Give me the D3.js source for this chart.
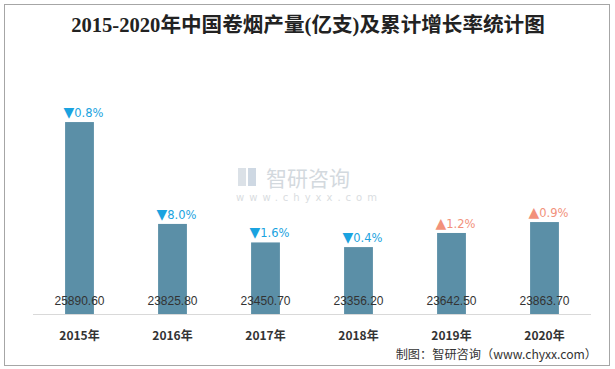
<!DOCTYPE html>
<html><head><meta charset="utf-8">
<script src="https://cdn.jsdelivr.net/npm/d3@7/dist/d3.min.js"></script>
<style>body{margin:0;background:#fff}svg{display:block}</style>
</head><body>
<svg id="c" width="615" height="369"></svg>
<script>
const categories = ["2015年","2016年","2017年","2018年","2019年","2020年"];
const production = [25890.60, 23825.80, 23450.70, 23356.20, 23642.50, 23863.70];
const growth = [-0.8, -8.0, -1.6, -0.4, 1.2, 0.9];
const yDomain = [22000, 26500];

const svg = d3.select("#c");
svg.append("rect").attr("x",4.5).attr("y",4.5).attr("width",605).attr("height",361)
  .attr("fill","#fff").attr("stroke","#a6a6a6").attr("stroke-width",1);

svg.append("text").attr("x",308).attr("y",32).attr("text-anchor","middle")
  .attr("font-family","'Liberation Serif','Noto Sans CJK SC',serif").attr("font-weight","bold")
  .attr("font-size",20.6).attr("fill","#222")
  .text("2015-2020年中国卷烟产量(亿支)及累计增长率统计图");

const x = d3.scaleBand().domain(categories).range([33,591]).paddingInner(0.69).paddingOuter(0.345);
const y = d3.scaleLinear().domain(yDomain).range([314,92]);

// watermark
const wm = svg.append("g").attr("opacity",0.5);
wm.append("rect").attr("x",238).attr("y",168).attr("width",8).attr("height",18).attr("fill","#b8c4d0");
wm.append("rect").attr("x",248).attr("y",168).attr("width",8).attr("height",18).attr("fill","#9fb3c8");
wm.append("text").attr("x",266).attr("y",186).attr("font-family","'Noto Sans CJK SC'").attr("font-size",21)
  .attr("fill","#a9b4be").text("智研咨询");
wm.append("text").attr("x",309).attr("y",201).attr("text-anchor","middle").attr("font-family","'DejaVu Sans'")
  .attr("font-size",10).attr("letter-spacing",5).attr("fill","#b5bcc3").text("www.chyxx.com");

svg.append("g").selectAll("rect").data(production).join("rect")
  .attr("x",(d,i)=>x(categories[i])).attr("width",x.bandwidth())
  .attr("y",d=>y(d)).attr("height",d=>y(yDomain[0])-y(d)).attr("fill","#5b8fa7");

svg.append("line").attr("x1",33).attr("x2",591).attr("y1",314.5).attr("y2",314.5)
  .attr("stroke","#d9d9d9").attr("stroke-width",1);

svg.append("g").selectAll("text").data(production).join("text")
  .attr("x",(d,i)=>x(categories[i])+x.bandwidth()/2).attr("y",305).attr("text-anchor","middle")
  .attr("font-family","'Liberation Sans',Arial").attr("font-size",12).attr("fill","#333")
  .text(d=>d.toFixed(2));

const gl = svg.append("g").selectAll("text").data(growth).join("text")
  .attr("x",(d,i)=>x(categories[i])+x.bandwidth()/2+4).attr("y",(d,i)=>y(production[i])-5)
  .attr("text-anchor","middle").attr("font-family","'DejaVu Sans'").attr("font-size",11.5)
  .attr("fill",d=>d<0?"#1aa3e0":"#f2917b");
gl.append("tspan").attr("font-size",14).text(d=>d<0?"▼":"▲");
gl.append("tspan").text(d=>Math.abs(d).toFixed(1)+"%");

svg.append("g").selectAll("text").data(categories).join("text")
  .attr("x",d=>x(d)+x.bandwidth()/2).attr("y",340).attr("text-anchor","middle")
  .attr("font-family","'Noto Sans CJK SC'").attr("font-weight","bold").attr("font-size",12).attr("fill","#333")
  .text(d=>d);

svg.append("text").attr("x",597).attr("y",359).attr("text-anchor","end")
  .attr("font-family","'Noto Sans CJK SC'").attr("font-size",12.2).attr("fill","#333")
  .text("制图：智研咨询（www.chyxx.com）");
</script>
</body></html>
